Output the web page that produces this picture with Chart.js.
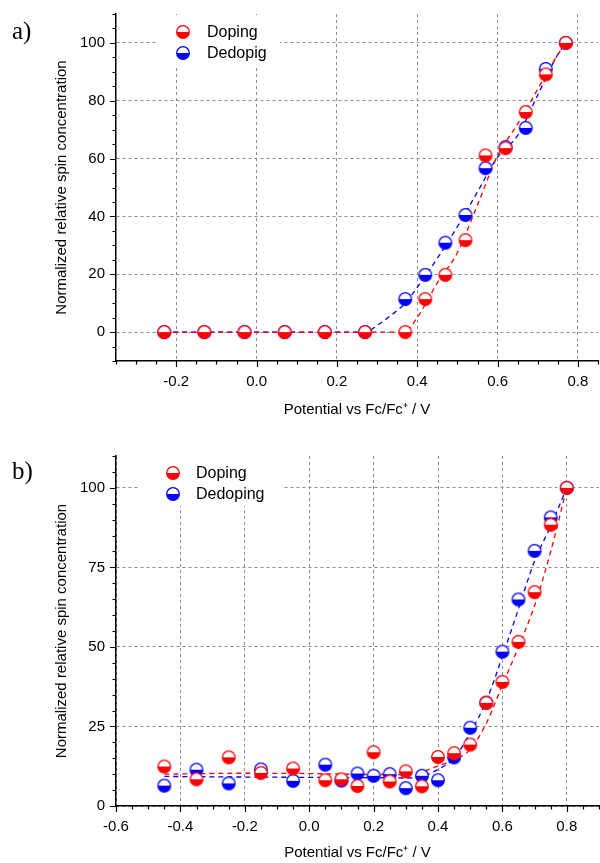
<!DOCTYPE html>
<html>
<head>
<meta charset="utf-8">
<script src="https://cdn.jsdelivr.net/npm/chart.js@4.4.1/dist/chart.umd.min.js"></script>
<style>
  html, body { margin: 0; padding: 0; background: #fff; }
  #wrap { position: relative; width: 600px; height: 863px; }
  .panel { position: absolute; left: 0; width: 600px; }
  .tag { position: absolute; left: 12px; font-family: "Liberation Serif", "Times New Roman", serif; font-size: 25px; line-height: 25px; }
</style>
</head>
<body>
<div id="wrap">
  <div class="panel" style="top:0;height:430px"><canvas id="chart_a"></canvas></div>
  <div class="panel" style="top:430px;height:433px"><canvas id="chart_b"></canvas></div>
  <div class="tag" style="top:18px">a)</div>
  <div class="tag" style="top:458px">b)</div>
</div>
<script>
// panel a) data
const potA = [-0.23, -0.13, -0.03, 0.07, 0.17, 0.27, 0.37, 0.42, 0.47, 0.52, 0.57, 0.62, 0.67, 0.72, 0.77];
const dopingA = [0, 0, 0, 0, 0, 0, 0, 11.4, 19.8, 31.8, 61.1, 63.6, 76.1, 89.1, 100];
const dedopingA = [0, 0, 0, 0, 0, 0, 11.4, 19.8, 30.9, 40.5, 56.7, 64, 70.6, 91, 100];
// dashed guide curves of panel a)
const fitPotA = [-0.23, 0.27, 0.3, 0.35, 0.37, 0.4, 0.45, 0.5, 0.55, 0.6, 0.65, 0.7, 0.75, 0.77];
const fitDopingA = [0, 0, 0, 0, 0.3, 5, 17, 27.5, 44, 61, 72, 84, 96, 100];
const fitDedopingA = [0, 0, 2.3, 7.5, 10, 15.5, 25.5, 36.5, 48.5, 60.5, 68, 82, 96, 100];

// panel b) data
const potB = [-0.45, -0.35, -0.25, -0.15, -0.05, 0.05, 0.1, 0.15, 0.2, 0.25, 0.3, 0.35, 0.4, 0.45, 0.5, 0.55, 0.6, 0.65, 0.7, 0.75, 0.8];
const dopingB = [12.4, 8.4, 15.3, 10.4, 11.8, 8.1, 8.4, 6.3, 16.9, 7.7, 10.9, 6.2, 15.4, 16.6, 19.3, 32.4, 39, 51.6, 67.2, 88.4, 100];
const dedopingB = [6.4, 11.4, 7.1, 11.5, 7.9, 13, 8.0, 10.2, 9.5, 10, 5.6, 9.5, 8.1, 15.3, 24.6, 32.5, 48.5, 64.9, 80.2, 90.7, 100];
const fitPotB = [-0.45, -0.2, 0, 0.2, 0.3, 0.35, 0.4, 0.45, 0.5, 0.55, 0.6, 0.65, 0.7, 0.75, 0.8];
const fitDopingB = [10, 10.3, 10.2, 9.9, 9.9, 10.8, 12.6, 14.5, 17.8, 26, 38, 50, 63, 80, 100];
const fitDedopingB = [9.3, 9.1, 9, 8.9, 8.8, 9.3, 11.5, 15, 23, 33, 47, 62, 77, 88, 100];

const legendA = ['Doping', 'Dedopig'];
const legendB = ['Doping', 'Dedoping'];

const FONT = "'Liberation Sans', Arial, sans-serif";
Chart.defaults.font.family = FONT;
Chart.defaults.color = '#000';

function halfMarker(color) {
  const c = document.createElement('canvas');
  c.width = 16; c.height = 16;
  const g = c.getContext('2d');
  g.beginPath(); g.arc(8, 8, 6.3, 0, Math.PI * 2); g.fillStyle = '#fff'; g.fill();
  g.beginPath(); g.arc(8, 8, 6.3, 0, Math.PI); g.closePath(); g.fillStyle = color; g.fill();
  g.beginPath(); g.arc(8, 8, 6.3, 0, Math.PI * 2); g.strokeStyle = color; g.lineWidth = 1.3; g.stroke();
  return c;
}
const redMark = halfMarker('#ff0000');
const blueMark = halfMarker('#0000ff');

const pairs = (xs, ys) => xs.map((x, i) => ({x: x, y: ys[i]}));
const isMajor = (v, step) => Math.abs(v / step - Math.round(v / step)) < 1e-6;

// tick marks: long at labelled values, short in between
const tickMarks = {
  id: 'tickMarks',
  afterDraw(chart, args, o) {
    const {ctx, scales: {x, y}} = chart;
    ctx.save();
    ctx.strokeStyle = '#000';
    ctx.lineWidth = 1.2;
    ctx.beginPath();
    x.ticks.forEach(t => {
      const px = Math.round(x.getPixelForValue(t.value)) + 0.5;
      ctx.moveTo(px, y.bottom);
      ctx.lineTo(px, y.bottom + (isMajor(t.value, o.xStep) ? 6 : 3.5));
    });
    y.ticks.forEach(t => {
      const py = Math.round(y.getPixelForValue(t.value)) + 0.5;
      ctx.moveTo(x.left, py);
      ctx.lineTo(x.left - (isMajor(t.value, o.yStep) ? 6 : 3.5), py);
    });
    ctx.stroke();
    ctx.restore();
  }
};

// legend box sitting inside the plot, hiding the grid behind it
const insideLegend = {
  id: 'insideLegend',
  beforeDatasetsDraw(chart, args, o) {
    const ctx = chart.ctx;
    ctx.save();
    ctx.fillStyle = '#fff';
    ctx.fillRect(o.box[0], o.box[1], o.box[2], o.box[3]);
    ctx.font = '16px ' + FONT;
    ctx.fillStyle = '#000';
    ctx.textBaseline = 'middle';
    [redMark, blueMark].forEach((m, i) => {
      const cy = o.y + i * o.gap;
      ctx.drawImage(m, o.x - 8, cy - 8);
      ctx.fillText(o.labels[i], o.textX, cy + 1);
    });
    ctx.restore();
  }
};

function buildChart(id, c) {
  return new Chart(document.getElementById(id), {
    type: 'scatter',
    data: {
      datasets: [{
          label: c.labels[0],
          data: pairs(c.x, c.doping),
          pointStyle: redMark,
          pointRadius: 7,
          showLine: false
        }, {
          label: c.labels[1],
          data: pairs(c.x, c.dedoping),
          pointStyle: blueMark,
          pointRadius: 7,
          showLine: false
        }, {
          type: 'line',
          data: pairs(c.fitX, c.fitDoping),
          borderColor: '#ff0000',
          borderWidth: 1.3,
          borderDash: [5, 4],
          pointRadius: 0,
          cubicInterpolationMode: 'monotone',
          fill: false
        }, {
          type: 'line',
          data: pairs(c.fitX, c.fitDedoping),
          borderColor: '#0000ff',
          borderWidth: 1.3,
          borderDash: [5, 4],
          pointRadius: 0,
          cubicInterpolationMode: 'monotone',
          fill: false
      }]
    },
    options: {
      responsive: true,
      maintainAspectRatio: false,
      animation: false,
      events: [],
      layout: {padding: c.padding, autoPadding: false},
      plugins: {
        legend: {display: false},
        tooltip: {enabled: false},
        tickMarks: {xStep: 0.2, yStep: c.yStep},
        insideLegend: c.legend
      },
      scales: {
        x: {
          type: 'linear',
          min: c.xMin,
          max: c.xMax,
          afterFit: s => {
            s.height = c.xHeight;
            s.paddingLeft = 0;
            s.paddingRight = 0;
          },
          ticks: {
            stepSize: 0.05,
            autoSkip: false,
            maxRotation: 0,
            padding: 12,
            font: {size: 15},
            callback: v => isMajor(v, 0.2) ? v.toFixed(1) : ''
          },
          grid: {
            drawTicks: false,
            lineWidth: 1,
            color: ctx => ctx.tick && isMajor(ctx.tick.value, 0.2) ? '#8c8c8c' : 'rgba(0,0,0,0)'
          },
          border: {color: '#000', width: 1.5, dash: [3, 3]},
          title: {
            display: true,
            text: 'Potential vs Fc/Fc\u207A / V',
            font: {size: 15},
            padding: {top: 0, bottom: c.xTitlePad}
          }
        },
        y: {
          type: 'linear',
          min: c.yMin,
          max: 110,
          afterFit: s => {
            s.width = 116;
            s.paddingTop = 0;
            s.paddingBottom = 0;
          },
          ticks: {
            stepSize: 5,
            autoSkip: false,
            padding: 11,
            font: {size: 15},
            callback: v => isMajor(v, c.yStep) ? String(v) : ''
          },
          grid: {
            drawTicks: false,
            lineWidth: 1,
            color: ctx => ctx.tick && isMajor(ctx.tick.value, c.yStep) ? '#8c8c8c' : 'rgba(0,0,0,0)'
          },
          border: {color: '#000', width: 1.5, dash: [3, 3]},
          title: {
            display: true,
            text: 'Normalized relative spin concentration',
            font: {size: 15},
            padding: {top: 53, bottom: 0}
          }
        }
      }
    },
    plugins: [tickMarks, insideLegend]
  });
}

buildChart('chart_a', {
  x: potA, doping: dopingA, dedoping: dedopingA,
  fitX: fitPotA, fitDoping: fitDopingA, fitDedoping: fitDedopingA,
  labels: legendA,
  xMin: -0.35, xMax: 0.85, yMin: -10, yStep: 20,
  padding: {left: 0, right: 2, top: 14, bottom: 0},
  xHeight: 69, xTitlePad: 11,
  legend: {box: [158, 15, 122, 52], x: 183, y: 32, gap: 21, textX: 207, labels: legendA}
});

buildChart('chart_b', {
  x: potB, doping: dopingB, dedoping: dedopingB,
  fitX: fitPotB, fitDoping: fitDopingB, fitDedoping: fitDedopingB,
  labels: legendB,
  xMin: -0.6, xMax: 0.9, yMin: 0, yStep: 25,
  padding: {left: 0, right: 1, top: 26, bottom: 0},
  xHeight: 57, xTitlePad: 1,
  legend: {box: [140, 26, 142, 50], x: 173, y: 43, gap: 21, textX: 196, labels: legendB}
});
</script>
</body>
</html>
